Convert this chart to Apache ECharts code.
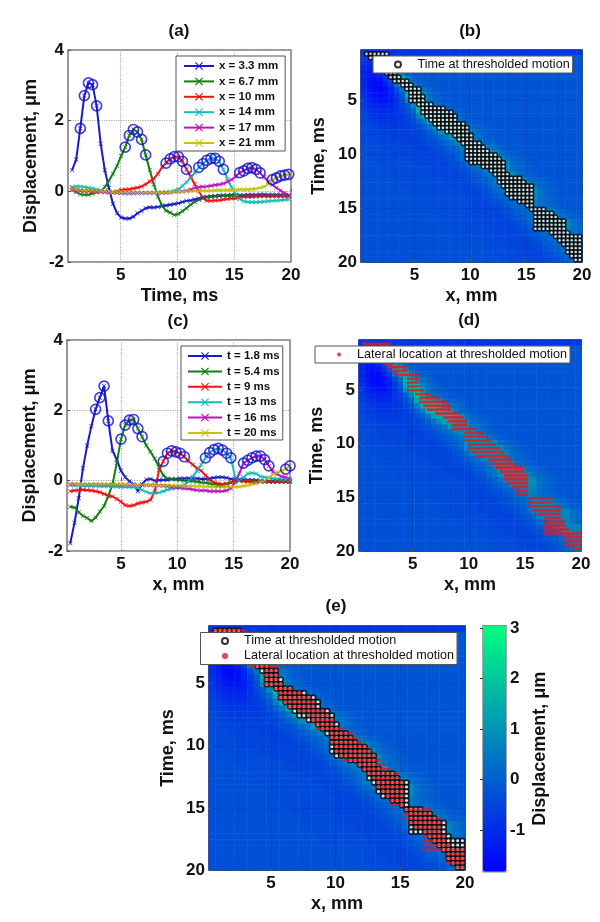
<!DOCTYPE html>
<html><head><meta charset="utf-8">
<style>html,body{margin:0;padding:0;background:#fff}#c{width:600px;height:922px}</style>
<script src="https://cdn.jsdelivr.net/npm/echarts@6/dist/echarts.min.js"></script>
</head><body><div id="c"></div>
<script>
// Panel (a): displacement against time at six lateral positions
const timesA = [.72,1.08,1.44,1.8,2.16,2.52,2.88,3.24,3.6,3.96,4.32,4.68,5.04,5.4,5.76,6.12,6.48,6.84,7.2,7.56,7.92,8.28,8.64,9,9.36,9.72,10.08,10.44,10.8,11.16,11.52,11.88,12.24,12.6,12.96,13.32,13.68,14.04,14.4,14.76,15.12,15.48,15.84,16.2,16.56,16.92,17.28,17.64,18,18.36,18.72,19.08,19.44,19.8];
const namesA = ['x = 3.3 mm','x = 6.7 mm','x = 10 mm','x = 14 mm','x = 17 mm','x = 21 mm'];
const a1 = [.6,.9,1.78,2.71,3.07,3.02,2.42,1.35,.6,.1,-.35,-.62,-.74,-.77,-.77,-.72,-.62,-.55,-.48,-.45,-.46,-.44,-.42,-.4,-.38,-.36,-.34,-.3,-.27,-.26,-.23,-.2,-.17,-.15,-.14,-.13,-.12,-.12,-.12,-.1,-.11,-.12,-.11,-.1,-.1,-.1,-.09,-.09,-.1,-.1,-.1,-.1,-.11,-.12];
const a2 = [.05,-.02,-.08,-.1,-.1,-.06,-.03,0,.12,.3,.5,.72,1,1.25,1.58,1.75,1.68,1.47,1.03,.6,.2,-.15,-.4,-.55,-.6,-.67,-.64,-.56,-.48,-.38,-.3,-.24,-.2,-.17,-.15,-.14,-.13,-.12,-.12,-.12,-.12,-.11,-.14,-.15,-.15,-.14,-.14,-.13,-.13,-.12,-.12,-.12,-.12,-.13];
const a3 = [.12,.05,.04,.02,.02,.01,0,0,-.02,-.03,-.02,0,.03,.05,.06,.08,.1,.14,.2,.28,.36,.5,.68,.8,.92,.98,.98,.85,.62,.42,.2,0,-.18,-.27,-.27,-.26,-.25,-.23,-.22,-.2,-.2,-.17,-.15,-.14,-.13,-.13,-.13,-.13,-.14,-.14,-.14,-.14,-.14,-.15];
const a4 = [.1,.14,.14,.12,.1,.08,.05,.03,.01,-.01,-.03,-.04,-.05,-.06,-.06,-.06,-.05,-.05,-.05,-.05,-.04,-.04,-.03,-.02,-.01,.02,.06,.15,.26,.38,.52,.68,.78,.88,.93,.93,.85,.62,.35,.12,-.08,-.22,-.28,-.3,-.31,-.31,-.3,-.29,-.28,-.27,-.26,-.25,-.24,-.23];
const a5 = [.03,.02,.01,0,0,-.01,-.01,-.02,-.02,-.03,-.03,-.04,-.04,-.05,-.05,-.05,-.05,-.05,-.05,-.05,-.05,-.05,-.05,-.04,-.03,-.02,-.01,0,.02,.05,.09,.12,.13,.14,.16,.18,.19,.22,.27,.33,.42,.53,.58,.65,.67,.62,.52,.4,.28,.18,.1,.02,-.05,-.1];
const a6 = [.07,.05,.04,.03,.03,.02,.02,.01,.01,0,-.01,-.02,-.02,-.03,-.03,-.03,-.03,-.03,-.03,-.03,-.03,-.03,-.03,-.02,-.02,-.02,-.01,-.01,0,0,.01,.01,.02,.02,.02,.03,.03,.03,.04,.04,.04,.05,.05,.05,.06,.07,.1,.13,.2,.33,.38,.44,.46,.48];
const seriesA = [a1,a2,a3,a4,a5,a6];
const circleSpansA = [[2,6],[13,18],[23,28],[31,37],[41,46],[49,53]];

// Panel (c): displacement against lateral position at six times
const positionsC = [.5,.875,1.25,1.625,2,2.375,2.75,3.125,3.5,3.875,4.25,4.625,5,5.375,5.75,6.125,6.5,6.875,7.25,7.625,8,8.375,8.75,9.125,9.5,9.875,10.25,10.625,11,11.375,11.75,12.125,12.5,12.875,13.25,13.625,14,14.375,14.75,15.125,15.5,15.875,16.25,16.625,17,17.375,17.75,18.125,18.5,18.875,19.25,19.625,20];
const namesC = ['t = 1.8 ms','t = 5.4 ms','t = 9 ms','t = 13 ms','t = 16 ms','t = 20 ms'];
const c1 = [-1.78,-1.2,-.5,.35,1,1.55,2.03,2.36,2.69,1.7,.85,.6,.28,.1,-.02,-.1,-.3,-.1,.03,.05,0,.01,.02,.02,.05,.05,.06,.06,.07,.06,.06,.05,.05,.06,.08,.1,.1,.08,.05,.04,.03,.03,.02,.02,.01,0,-.01,-.01,-.01,-.02,-.02,-.02,-.02];
const c2 = [-.74,-.76,-.9,-1,-1.06,-1.15,-1.05,-.88,-.72,-.44,-.1,.5,1.18,1.58,1.72,1.74,1.48,1.25,1,.82,.62,.38,.15,.06,.04,.03,.02,0,0,-.02,-.03,-.05,-.06,-.08,-.1,-.12,-.12,-.1,-.06,-.02,0,0,0,-.01,-.02,-.02,-.03,-.03,-.03,-.03,-.03,-.03,-.03];
const c3 = [-.3,-.28,-.27,-.26,-.27,-.28,-.3,-.33,-.38,-.42,-.45,-.52,-.6,-.7,-.72,-.7,-.65,-.62,-.6,-.55,-.3,.3,.55,.78,.85,.82,.78,.68,.55,.45,.35,.28,.15,.02,-.05,-.08,-.1,-.08,-.05,.02,0,-.02,-.03,-.03,-.03,-.03,-.03,-.03,-.03,-.03,-.03,-.03,-.03];
const c4 = [-.13,-.14,-.14,-.15,-.15,-.15,-.15,-.16,-.16,-.16,-.17,-.17,-.18,-.18,-.18,-.19,-.2,-.27,-.32,-.36,-.36,-.34,-.3,-.26,-.23,-.2,-.18,-.12,-.02,.12,.28,.45,.65,.8,.88,.92,.87,.78,.65,.1,0,.1,.2,.22,.2,.12,.1,.08,.06,.05,.04,.03,.02];
const c5 = [-.1,-.1,-.1,-.1,-.11,-.11,-.11,-.11,-.12,-.12,-.12,-.12,-.12,-.12,-.12,-.12,-.13,-.13,-.13,-.13,-.13,-.14,-.15,-.16,-.18,-.2,-.21,-.22,-.23,-.25,-.27,-.28,-.28,-.3,-.3,-.3,-.3,-.28,-.22,-.05,.2,.5,.58,.65,.7,.7,.6,.42,.25,.18,.12,.1,.05];
const c6 = [-.08,-.09,-.1,-.1,-.1,-.1,-.1,-.1,-.1,-.1,-.1,-.1,-.1,-.11,-.11,-.11,-.12,-.12,-.12,-.12,-.13,-.13,-.13,-.13,-.14,-.14,-.14,-.15,-.15,-.15,-.16,-.16,-.17,-.17,-.18,-.18,-.18,-.18,-.18,-.18,-.17,-.15,-.13,-.1,-.08,-.03,0,.08,.18,.24,.28,.33,.42];
const seriesC = [c1,c2,c3,c4,c5,c6];
const circleSpansC = [[6,9],[12,17],[22,27],[32,38],[41,47],[51,52]];

const lineColors = ['#1a1acb','#118011','#f01414','#14bcbc','#c014c0','#c4c414'];

// Thresholded-motion bands: first and last x (mm) reached at each time row
const bandTimes = timesA;
const markerXs = [.36,.72,1.08,1.44,1.8,2.16,2.52,2.88,3.24,3.6,3.96,4.32,4.68,5.04,5.4,5.76,6.12,6.48,6.84,7.2,7.56,7.92,8.28,8.64,9,9.36,9.72,10.08,10.44,10.8,11.16,11.52,11.88,12.24,12.6,12.96,13.32,13.68,14.04,14.4,14.76,15.12,15.48,15.84,16.2,16.56,16.92,17.28,17.64,18,18.36,18.72,19.08,19.44,19.8];
const timeBandFrom = [.5,.9,1.5,1.6,2,2.3,2.8,3.1,3.75,4.2,4.5,4.5,4.5,5.2,5.5,5.7,5.9,6.3,6.6,7.2,7.8,8.3,8.8,9.3,9.6,9.6,9.6,9.6,9.9,10.9,11.7,12.1,12.3,12.5,12.8,13,13.3,13.6,14.3,14.8,15.3,15.5,15.5,15.5,15.7,15.8,17,17.5,17.9,18.3,18.4,18.7,19,19.1];
const timeBandTo = [2.7,1.3,3,3,3.2,3.4,3.75,4.5,4.8,5.5,5.7,5.85,6.1,6.5,7.9,8.4,8.7,8.9,9.6,9.9,9.9,10.2,10.3,10.8,11.4,11.8,12.5,12.8,13,13.1,13.2,13.4,14.5,15.1,15.5,15.8,15.8,15.8,15.8,15.8,16.7,17.3,17.9,18.6,18.6,18.6,18.9,20,20,20,20,20,20,20];
const lateralBandFrom = [.5,.9,1.5,1.6,2,2.3,2.76,3,3.4,4.4,4.5,4.4,4.55,5.15,5.45,5.6,5.9,6.2,6.9,7.7,8.1,8.3,8.6,9.5,9.5,9.6,9.9,9.9,10.4,10.7,11.7,12,12.5,12.8,13.1,13.1,13.5,14,14.25,14.4,15.15,15.15,15.45,15.75,16.2,16.8,16.9,16.9,16.9,16.9,18.7,18.6,18.7,19.3];
const lateralBandTo = [3,1.3,3,3,3.2,3.4,4.35,4.4,5.75,5.75,5.6,5.75,6.1,6.6,7.5,8.1,8.4,8.6,9.2,9.5,9.9,9.9,10.5,11.4,11.6,12,12.5,12.9,13.2,13.4,13.7,14.25,14.85,15.1,15.4,15.4,15.4,15.4,15.4,15.4,17.4,17.5,18,18.1,18.1,18.1,18.6,18.6,18.9,20,20,20,20,20];

// Displacement image, in tenths of a micron; columns follow heatXs, rows follow heatTs
const heatXs = [.45,.94,1.44,1.93,2.43,2.92,3.4,3.9,4.4,4.9,5.4,5.9,6.4,6.9,7.4,7.9,8.4,8.9,9.4,9.9,10.4,10.9,11.3,11.8,12.3,12.8,13.3,13.8,14.3,14.8,15.3,15.8,16.3,16.8,17.3,17.8,18.3,18.8,19.3,19.8];
const heatTs = [.6,1.1,1.6,2.1,2.6,3.1,3.6,4.1,4.6,5,5.5,6,6.5,7,7.5,8,8.5,9,9.5,10,10.4,10.9,11.4,11.9,12.4,12.9,13.4,13.9,14.4,14.9,15.3,15.8,16.3,16.8,17.3,17.8,18.3,18.8,19.3,19.8];
const heatTenths = [
[-8,-8,-8,-8,-8,-8,-8,-8,-8,-8, -8,-8,-8,-8,-8,-8,-8,-8,-8,-8, -8,-8,-8,-8,-8,-8,-8,-8,-8,-8, -8,-8,-8,-8,-8,-8,-8,-8,-8,-8],
[-6,-6,-4,-3,-2,-2,-2,-2,-2,-2, -2,-2,-2,-2,-2,-2,-2,-2,-2,-2, -2,-2,-2,-2,-2,-2,-2,-2,-2,-2, -2,-2,-2,-2,-2,-2,-2,-2,-2,-2],
[-8,-10,-6,6,8,2,-1,-2,-2,-2, -2,-2,-2,-2,-2,-2,-2,-2,-2,-2, -2,-2,-2,-2,-2,-2,-2,-2,-2,-2, -2,-2,-2,-2,-2,-2,-2,-2,-2,-2],
[-10,-12,-8,-2,6,9,3,-1,-2,-2, -2,-2,-2,-2,-2,-2,-2,-2,-2,-2, -2,-2,-2,-2,-2,-2,-2,-2,-2,-2, -2,-2,-2,-2,-2,-2,-2,-2,-2,-2],
[-11,-13,-14,-10,-6,3,12,6,0,-1, -2,-2,-2,-2,-2,-2,-2,-2,-2,-2, -2,-2,-2,-2,-2,-2,-2,-2,-2,-2, -2,-2,-2,-2,-2,-2,-2,-2,-2,-2],
[-11,-14,-15,-14,-9,-2,12,14,6,1, -1,-2,-2,-2,-2,-2,-2,-2,-2,-2, -2,-2,-2,-2,-2,-2,-2,-2,-2,-2, -2,-2,-2,-2,-2,-2,-2,-2,-2,-2],
[-11,-14,-16,-16,-12,-7,4,16,16,6, 2,0,-1,-2,-2,-2,-2,-2,-2,-2, -2,-2,-2,-2,-2,-2,-2,-2,-2,-2, -2,-2,-2,-2,-2,-2,-2,-2,-2,-2],
[-10,-13,-16,-17,-15,-11,-4,3,16,18, 10,3,1,-1,-2,-2,-2,-2,-2,-2, -2,-2,-2,-2,-2,-2,-2,-2,-2,-2, -2,-2,-2,-2,-2,-2,-2,-2,-2,-2],
[-9,-12,-15,-16,-15,-12,-7,-1,14,19, 16,6,2,0,-1,-2,-2,-2,-2,-2, -2,-2,-2,-2,-2,-2,-2,-2,-2,-2, -2,-2,-2,-2,-2,-2,-2,-2,-2,-2],
[-8,-11,-13,-14,-14,-12,-8,-3,10,20, 20,10,4,1,0,-1,-2,-2,-2,-2, -2,-2,-2,-2,-2,-2,-2,-2,-2,-2, -2,-2,-2,-2,-2,-2,-2,-2,-2,-2],
[-7,-9,-11,-12,-12,-11,-8,-5,-1,8, 20,18,8,3,1,0,-1,-2,-2,-2, -2,-2,-2,-2,-2,-2,-2,-2,-2,-2, -2,-2,-2,-2,-2,-2,-2,-2,-2,-2],
[-6,-8,-9,-10,-10,-10,-8,-6,-3,2, 14,18,16,14,8,3,1,0,-1,-2, -2,-2,-2,-2,-2,-2,-2,-2,-2,-2, -2,-2,-2,-2,-2,-2,-2,-2,-2,-2],
[-5,-7,-8,-9,-9,-9,-8,-7,-5,-1, 6,15,18,17,15,10,4,2,0,-1, -2,-2,-2,-2,-2,-2,-2,-2,-2,-2, -2,-2,-2,-2,-2,-2,-2,-2,-2,-2],
[-5,-6,-7,-8,-8,-8,-8,-7,-6,-3, 0,5,15,16,16,14,10,4,1,0, -1,-2,-2,-2,-2,-2,-2,-2,-2,-2, -2,-2,-2,-2,-2,-2,-2,-2,-2,-2],
[-4,-5,-6,-7,-7,-7,-7,-7,-6,-5, -3,0,4,12,14,14,14,12,10,4, 1,0,-1,-2,-2,-2,-2,-2,-2,-2, -2,-2,-2,-2,-2,-2,-2,-2,-2,-2],
[-4,-5,-5,-6,-6,-6,-6,-6,-6,-5, -5,-3,0,3,9,13,13,12,11,8, 3,1,0,-1,-2,-2,-2,-2,-2,-2, -2,-2,-2,-2,-2,-2,-2,-2,-2,-2],
[-4,-4,-5,-5,-5,-6,-6,-6,-6,-6, -5,-4,-3,-1,2,5,11,11,11,9, 4,2,0,-1,-2,-2,-2,-2,-2,-2, -2,-2,-2,-2,-2,-2,-2,-2,-2,-2],
[-4,-4,-4,-5,-5,-5,-5,-5,-6,-6, -6,-5,-4,-3,-1,1,3,7,10,10, 9,4,2,0,-1,-2,-2,-2,-2,-2, -2,-2,-2,-2,-2,-2,-2,-2,-2,-2],
[-3,-4,-4,-4,-5,-5,-5,-5,-5,-5, -6,-6,-5,-4,-3,-1,0,2,5,10, 10,10,9,4,2,0,-1,-2,-2,-2, -2,-2,-2,-2,-2,-2,-2,-2,-2,-2],
[-3,-4,-4,-4,-4,-5,-5,-5,-5,-5, -5,-5,-5,-5,-4,-3,-1,0,3,9, 10,10,10,9,8,3,1,0,-1,-2, -2,-2,-2,-2,-2,-2,-2,-2,-2,-2],
[-3,-3,-4,-4,-4,-4,-4,-4,-5,-5, -5,-5,-5,-5,-5,-4,-3,-1,2,8, 10,10,10,10,9,8,3,1,0,-1, -2,-2,-2,-2,-2,-2,-2,-2,-2,-2],
[-3,-3,-3,-4,-4,-4,-4,-4,-4,-4, -5,-5,-5,-5,-5,-5,-4,-3,-1,2, 8,10,10,10,9,9,8,3,1,0, -1,-2,-2,-2,-2,-2,-2,-2,-2,-2],
[-3,-3,-3,-3,-4,-4,-4,-4,-4,-4, -4,-4,-5,-5,-5,-5,-5,-4,-3,-1, 1,3,6,9,9,9,8,3,1,0, -1,-2,-2,-2,-2,-2,-2,-2,-2,-2],
[-3,-3,-3,-3,-3,-4,-4,-4,-4,-4, -4,-4,-4,-5,-5,-5,-5,-5,-4,-3, -1,0,2,4,9,10,9,9,3,1, 0,-1,-2,-2,-2,-2,-2,-2,-2,-2],
[-3,-3,-3,-3,-3,-3,-4,-4,-4,-4, -4,-4,-4,-4,-4,-5,-5,-5,-5,-4, -3,-1,0,2,5,9,10,10,9,8, 3,1,0,-1,-2,-2,-2,-2,-2,-2],
[-3,-3,-3,-3,-3,-3,-3,-4,-4,-4, -4,-4,-4,-4,-4,-4,-5,-5,-5,-5, -4,-3,-1,1,4,9,10,10,10,10, 8,3,1,0,-1,-2,-2,-2,-2,-2],
[-3,-3,-3,-3,-3,-3,-3,-3,-3,-4, -4,-4,-4,-4,-4,-4,-4,-4,-5,-5, -5,-4,-3,-1,1,3,8,9,9,9, 9,8,3,1,0,-1,-2,-2,-2,-2],
[-3,-3,-3,-3,-3,-3,-3,-3,-3,-3, -4,-4,-4,-4,-4,-4,-4,-4,-4,-5, -5,-5,-4,-3,-1,0,2,7,9,9, 9,8,3,1,0,-1,-2,-2,-2,-2],
[-3,-3,-3,-3,-3,-3,-3,-3,-3,-3, -3,-4,-4,-4,-4,-4,-4,-4,-4,-4, -5,-5,-5,-4,-3,-2,0,1,4,8, 8,6,3,1,0,-1,-2,-2,-2,-2],
[-3,-3,-3,-3,-3,-3,-3,-3,-3,-3, -3,-3,-4,-4,-4,-4,-4,-4,-4,-4, -5,-5,-5,-5,-4,-3,-2,0,1,3, 7,6,3,2,1,0,-1,-2,-2,-2],
[-3,-3,-3,-3,-3,-3,-3,-3,-3,-3, -3,-3,-3,-4,-4,-4,-4,-4,-4,-4, -5,-5,-5,-5,-5,-4,-3,-2,0,1, 3,8,8,8,7,3,1,0,-1,-2],
[-3,-3,-3,-3,-3,-3,-3,-3,-3,-3, -3,-3,-3,-3,-4,-4,-4,-4,-4,-4, -4,-5,-5,-5,-5,-5,-4,-3,-2,0, 2,8,8,8,8,7,3,1,0,-1],
[-3,-3,-3,-3,-3,-3,-3,-3,-3,-3, -3,-3,-3,-3,-3,-4,-4,-4,-4,-4, -4,-4,-5,-5,-5,-5,-5,-4,-3,-1, 1,6,8,8,8,8,7,7,3,1],
[-3,-3,-3,-3,-3,-3,-3,-3,-3,-3, -3,-3,-3,-3,-3,-3,-4,-4,-4,-4, -4,-4,-4,-5,-5,-5,-5,-5,-4,-3, -1,1,6,8,8,8,7,7,3,1],
[-3,-3,-3,-3,-3,-3,-3,-3,-3,-3, -3,-3,-3,-3,-3,-3,-3,-4,-4,-4, -4,-4,-4,-4,-5,-5,-5,-5,-5,-4, -3,-1,0,2,6,7,7,7,3,1],
[-3,-3,-3,-3,-3,-3,-3,-3,-3,-3, -3,-3,-3,-3,-3,-3,-3,-3,-4,-4, -3,-4,-4,-4,-4,-5,-5,-5,-5,-5, -4,-3,-1,0,2,6,7,7,7,7],
[-3,-3,-3,-3,-3,-3,-3,-3,-3,-3, -3,-3,-3,-3,-3,-3,-3,-3,-3,-4, -3,-3,-4,-4,-4,-4,-5,-5,-5,-5, -5,-4,-3,-1,0,2,4,7,7,7],
[-3,-3,-3,-3,-3,-3,-3,-3,-3,-3, -3,-3,-3,-3,-3,-3,-3,-3,-3,-3, -3,-3,-3,-4,-4,-4,-4,-5,-5,-5, -5,-5,-4,-3,-1,0,2,6,7,7],
[-3,-3,-3,-3,-3,-3,-3,-3,-3,-3, -3,-3,-3,-3,-3,-3,-3,-3,-3,-3, -3,-3,-3,-3,-4,-4,-4,-4,-5,-5, -5,-5,-5,-4,-3,-2,0,2,6,7],
[-3,-3,-3,-3,-3,-3,-3,-3,-3,-3, -3,-3,-3,-3,-3,-3,-3,-3,-3,-3, -3,-3,-3,-3,-3,-4,-4,-4,-4,-4, -5,-5,-5,-5,-4,-3,-2,0,3,7]
];

const majorTicks = [5,10,15,20];
const barTicks = [-1,0,1,2,3];
const font = 'Liberation Sans';

const heatData = [];
heatTenths.forEach((row, r) => row.forEach((v, c) => heatData.push([c, r, v / 10])));
const band = (from, to) => {
  const pts = [];
  bandTimes.forEach((t, i) => markerXs.forEach(x => { if (x >= from[i] && x <= to[i]) pts.push([x, t]); }));
  return pts;
};
const timePts = band(timeBandFrom, timeBandTo);
const lateralPts = band(lateralBandFrom, lateralBandTo);

const grids = [
  {left:68, top:50, width:223, height:212},
  {left:361,top:50, width:221, height:212},
  {left:67, top:340,width:223, height:211},
  {left:359,top:340,width:222, height:211},
  {left:209,top:626,width:256, height:244},
  {left:483,top:625.7,width:23,height:246}
].map(g => Object.assign({show:true, borderColor:'#777', borderWidth:1.5, backgroundColor:'#fff'}, g));
grids[1].borderColor = grids[3].borderColor = grids[4].borderColor = '#0a1a66';
grids[5].borderColor = '#888';

const tickText = {color:'#111', fontFamily:font, fontWeight:'bold', fontSize:17};
const nameText = {color:'#111', fontFamily:font, fontWeight:'bold', fontSize:18};
const dotted = {show:true, lineStyle:{color:'#aaa', type:'dotted', width:1.2}};
const darkDotted = {show:true, lineStyle:{color:'rgba(0,0,70,0.22)', type:'dotted', width:1}};

function xAx(grid, name, min, dark){
  return {type:'value', gridIndex:grid, min, max:20, name, nameLocation:'middle', nameGap:25, nameTextStyle:nameText, z:dark?2:undefined,
    axisLine:{show:false}, axisTick:{show:true, inside:true, length:3, lineStyle:{color:'#555'}, customValues:majorTicks},
    axisLabel:Object.assign({margin:5, customValues:majorTicks, hideOverlap:false, showMinLabel:true, showMaxLabel:true}, tickText),
    splitLine: dark?darkDotted:dotted};
}
function timeYAx(grid, gap){
  return {type:'value', gridIndex:grid, inverse:true, min:.36, max:20, name:'Time, ms', nameLocation:'middle', nameGap:gap, nameTextStyle:nameText, z:2,
    axisLine:{show:false}, axisTick:{show:true, inside:true, length:3, lineStyle:{color:'#555'}, customValues:majorTicks},
    axisLabel:Object.assign({margin:4, customValues:majorTicks}, tickText), splitLine:darkDotted};
}
function dispYAx(grid){
  return {type:'value', gridIndex:grid, min:-2, max:4, interval:2, name:'Displacement, μm', nameLocation:'middle', nameGap:28, nameTextStyle:nameText,
    axisLine:{show:false}, axisTick:{show:true, inside:true, length:3, lineStyle:{color:'#555'}},
    axisLabel:Object.assign({margin:4}, tickText),
    splitLine:dotted};
}
const hiddenCatX = g => ({type:'category', gridIndex:g, data:heatXs, show:false, position:'top'});
const hiddenCatY = g => ({type:'category', gridIndex:g, data:heatTs, show:false, inverse:true, position:'right'});

const xAxes = [
  xAx(0,'Time, ms',.36), xAx(1,'x, mm',.22,true), xAx(2,'x, mm',.21), xAx(3,'x, mm',.22,true), xAx(4,'x, mm',.22,true),
  {type:'value', gridIndex:5, min:0, max:1, show:false},
  hiddenCatX(1), hiddenCatX(3), hiddenCatX(4)
];
const yAxes = [
  dispYAx(0), timeYAx(1,33), dispYAx(2), timeYAx(3,33), timeYAx(4,32),
  {type:'value', gridIndex:5, position:'right', min:-1.83, max:3.05, name:'Displacement, μm', nameLocation:'middle', nameGap:25, nameRotate:90, nameTextStyle:nameText,
   axisLine:{show:false}, axisTick:{show:true, inside:true, length:3, lineStyle:{color:'#333'}, customValues:barTicks},
   axisLabel:Object.assign({margin:4, customValues:barTicks}, tickText), splitLine:{show:false}},
  hiddenCatY(1), hiddenCatY(3), hiddenCatY(4)
];

const crossMark = 'path://M1,0L5,4L9,0L10,1L6,5L10,9L9,10L5,6L1,10L0,9L4,5L0,1Z';
const series = [];
function lines(xs, ys, names, spans, axis){
  ys.forEach((vals, i) => {
    series.push({type:'line', name:names[i], xAxisIndex:axis, yAxisIndex:axis, z:3, data:vals.map((v,k)=>[xs[k],v]),
      symbol:crossMark, symbolSize:4.5, showSymbol:true, showAllSymbol:true, lineStyle:{color:lineColors[i], width:2},
      itemStyle:{color:lineColors[i]}, silent:true});
  });
  const rings = [];
  ys.forEach((vals, i) => { for (let k = spans[i][0]; k <= spans[i][1]; k++) rings.push([xs[k], vals[k]]); });
  series.push({type:'scatter', xAxisIndex:axis, yAxisIndex:axis, z:4, data:rings, symbol:'circle', symbolSize:10,
    itemStyle:{color:'rgba(0,0,0,0)', borderColor:'#1414c8', borderWidth:1.7}, silent:true});
}
lines(timesA, seriesA, namesA, circleSpansA, 0);
lines(positionsC, seriesC, namesC, circleSpansC, 2);

const heatSeriesIdx = [];
[[1,6,6],[3,7,7],[4,8,8]].forEach(([g,xi,yi]) => {
  heatSeriesIdx.push(series.length);
  series.push({type:'heatmap', xAxisIndex:xi, yAxisIndex:yi, data:heatData, z:1, progressive:0, silent:true, itemStyle:{borderWidth:0}});
});
const timeName = 'Time at thresholded motion';
const latName = 'Lateral location at thresholded motion';
const ringMark = (axis, size, bw) => ({type:'scatter', name:timeName, xAxisIndex:axis, yAxisIndex:axis, z:3, data:timePts, symbol:'circle', symbolSize:size,
  itemStyle:{color:'#fff', borderColor:'#000', borderWidth:bw}, silent:true});
const redMark = (axis, size) => ({type:'scatter', name:latName, xAxisIndex:axis, yAxisIndex:axis, z:4, data:lateralPts, symbol:'rect', symbolSize:size,
  itemStyle:{color:'#e8141e'}, silent:true});
series.push(ringMark(1,4.2,1.6), redMark(3,[4.2,2.7]), ringMark(4,4.8,1.7), redMark(4,[4.6,2.2]));

const legendText = {color:'#111', fontFamily:font, fontSize:12.6};
const legendBase = {orient:'vertical', backgroundColor:'#fff', borderColor:'#555', borderWidth:1, selectedMode:false, z:20, borderRadius:0, textStyle:legendText};
const lineLegendText = Object.assign({}, legendText, {fontWeight:'bold', fontSize:11.5});
const legends = [
  Object.assign({}, legendBase, {left:176, top:56, padding:[4,7,2,7], data:namesA, itemWidth:30, itemHeight:10, itemGap:3.4, textStyle:lineLegendText}),
  Object.assign({}, legendBase, {left:181, top:346, padding:[4,3,1,6], data:namesC, itemWidth:34, itemHeight:10, itemGap:3.4, textStyle:lineLegendText}),
  Object.assign({}, legendBase, {left:373, top:56, padding:[2,3,2,21], itemWidth:29, itemHeight:6,
    data:[{name:timeName, icon:'circle'}]}),
  Object.assign({}, legendBase, {left:315, top:346, padding:[2,3,2,22], itemWidth:26, itemHeight:4,
    data:[{name:latName, icon:'circle'}]}),
  Object.assign({}, legendBase, {left:200.5, top:632.5, padding:[2,3,2,20.5], itemWidth:28, itemHeight:6, itemGap:2,
    data:[{name:timeName, icon:'circle'}, {name:latName, icon:'circle'}]})
];
const titleAt = (text, x, y) => ({text, left:x, top:y, textAlign:'center', textVerticalAlign:'middle', padding:0,
  textStyle:{color:'#111', fontFamily:font, fontWeight:'bold', fontSize:17}});

const chart = echarts.init(document.getElementById('c'), null, {renderer:'canvas'});
chart.setOption({
  animation:false, backgroundColor:'#fff',
  title:[titleAt('(a)',179,31), titleAt('(b)',470,31), titleAt('(c)',178,321), titleAt('(d)',469,320), titleAt('(e)',336,606)],
  grid:grids, xAxis:xAxes, yAxis:yAxes, legend:legends,
  visualMap:{type:'continuous', seriesIndex:heatSeriesIdx, dimension:2, min:-1.83, max:3.05, calculable:false, left:483, top:625.7, padding:0,
    itemWidth:23, itemHeight:246, text:['',''], showLabel:false, inRange:{color:['#0000ff','#00ff80']}},
  series
});
</script></body></html>
